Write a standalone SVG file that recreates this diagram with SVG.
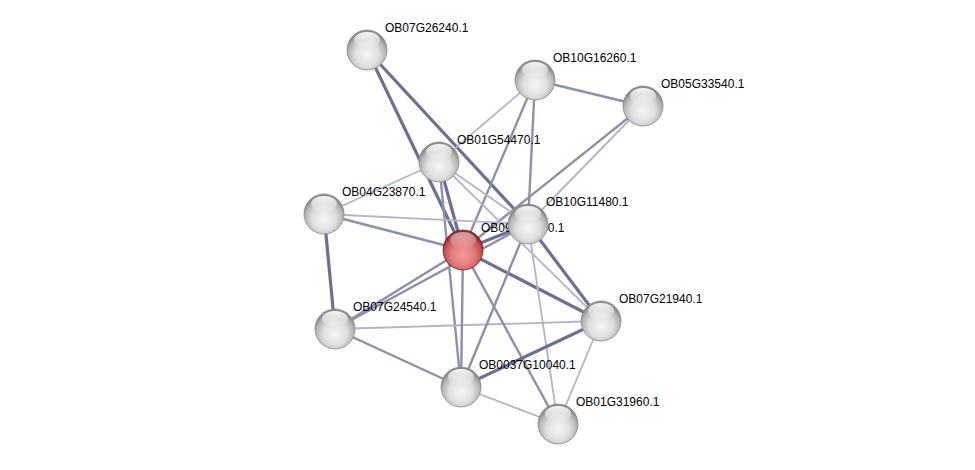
<svg xmlns="http://www.w3.org/2000/svg" width="975" height="470" viewBox="0 0 975 470">
<defs>
<radialGradient id="gW" cx="50%" cy="62%" r="55%">
<stop offset="0" stop-color="#f6f6f6"/>
<stop offset="0.55" stop-color="#dedede"/>
<stop offset="0.85" stop-color="#b4b4b4"/>
<stop offset="1" stop-color="#8c8c8c"/>
</radialGradient>
<radialGradient id="gR" cx="50%" cy="62%" r="55%">
<stop offset="0" stop-color="#f49a9a"/>
<stop offset="0.55" stop-color="#e07a7a"/>
<stop offset="0.85" stop-color="#c05252"/>
<stop offset="1" stop-color="#8e2c2c"/>
</radialGradient>
<linearGradient id="shine" x1="0" y1="0" x2="0" y2="1">
<stop offset="0" stop-color="#ffffff" stop-opacity="0.95"/>
<stop offset="1" stop-color="#ffffff" stop-opacity="0.05"/>
</linearGradient>
</defs>
<style>
.s{stroke:#6d7190;stroke-width:3.2;fill:none}
.m{stroke:#8d90aa;stroke-width:2.4;fill:none}
.w{stroke:#b2b5c8;stroke-width:1.8;fill:none}
.nw{fill:url(#gW);stroke:#8a8a8a;stroke-width:0.8}
.nr{fill:url(#gR);stroke:#7a2020;stroke-width:0.8}
.sh{fill:url(#shine)}
text{font-family:"Liberation Sans",Arial,sans-serif;font-size:12px;fill:#000}
</style>
<rect width="975" height="470" fill="#ffffff"/>
<g id="edges">
<line class="s" x1="367" y1="50" x2="463" y2="250"/>
<line class="s" x1="367" y1="50" x2="528" y2="224"/>
<line class="m" x1="535" y1="80" x2="643" y2="106"/>
<line class="w" x1="535" y1="80" x2="439" y2="162"/>
<line class="m" x1="535" y1="80" x2="463" y2="250"/>
<line class="m" x1="535" y1="80" x2="528" y2="224"/>
<line class="m" x1="643" y1="106" x2="463" y2="250"/>
<line class="w" x1="643" y1="106" x2="528" y2="224"/>
<line class="w" x1="439" y1="162" x2="324" y2="214"/>
<line class="s" x1="439" y1="162" x2="463" y2="250"/>
<line class="m" x1="439" y1="162" x2="461" y2="387"/>
<line class="w" x1="439" y1="162" x2="528" y2="224"/>
<line class="w" x1="439" y1="162" x2="601" y2="321"/>
<line class="m" x1="324" y1="214" x2="463" y2="250"/>
<line class="w" x1="324" y1="214" x2="528" y2="224"/>
<line class="s" x1="324" y1="214" x2="335" y2="329"/>
<line class="m" x1="335" y1="329" x2="463" y2="250"/>
<line class="m" x1="335" y1="329" x2="528" y2="224"/>
<line class="w" x1="335" y1="329" x2="601" y2="321"/>
<line class="m" x1="335" y1="329" x2="461" y2="387"/>
<line class="s" x1="463" y1="250" x2="528" y2="224"/>
<line class="s" x1="463" y1="250" x2="601" y2="321"/>
<line class="m" x1="463" y1="250" x2="461" y2="387"/>
<line class="m" x1="463" y1="250" x2="558" y2="424"/>
<line class="s" x1="528" y1="224" x2="601" y2="321"/>
<line class="m" x1="528" y1="224" x2="461" y2="387"/>
<line class="w" x1="528" y1="224" x2="558" y2="424"/>
<line class="s" x1="461" y1="387" x2="601" y2="321"/>
<line class="w" x1="461" y1="387" x2="558" y2="424"/>
<line class="w" x1="558" y1="424" x2="601" y2="321"/>
</g>
<g id="OB07G26240.1">
<circle class="nw" cx="367" cy="50" r="20"/>
<ellipse class="sh" cx="367" cy="40" rx="13" ry="8"/>
<text x="385" y="32">OB07G26240.1</text>
</g>
<g id="OB10G16260.1">
<circle class="nw" cx="535" cy="80" r="20"/>
<ellipse class="sh" cx="535" cy="70" rx="13" ry="8"/>
<text x="553" y="62">OB10G16260.1</text>
</g>
<g id="OB05G33540.1">
<circle class="nw" cx="643" cy="106" r="20"/>
<ellipse class="sh" cx="643" cy="96" rx="13" ry="8"/>
<text x="661" y="88">OB05G33540.1</text>
</g>
<g id="OB01G54470.1">
<circle class="nw" cx="439" cy="162" r="20"/>
<ellipse class="sh" cx="439" cy="152" rx="13" ry="8"/>
<text x="457" y="144">OB01G54470.1</text>
</g>
<g id="OB04G23870.1">
<circle class="nw" cx="324" cy="214" r="20"/>
<ellipse class="sh" cx="324" cy="204" rx="13" ry="8"/>
<text x="342" y="196">OB04G23870.1</text>
</g>
<g id="OB09G10350.1">
<circle class="nr" cx="463" cy="250" r="20"/>
<ellipse class="sh" cx="463" cy="240" rx="13" ry="8" opacity="0.6"/>
<text x="481" y="232">OB09G10350.1</text>
</g>
<g id="OB10G11480.1">
<circle class="nw" cx="528" cy="224" r="20"/>
<ellipse class="sh" cx="528" cy="214" rx="13" ry="8"/>
<text x="546" y="206">OB10G11480.1</text>
</g>
<g id="OB07G21940.1">
<circle class="nw" cx="601" cy="321" r="20"/>
<ellipse class="sh" cx="601" cy="311" rx="13" ry="8"/>
<text x="619" y="303">OB07G21940.1</text>
</g>
<g id="OB07G24540.1">
<circle class="nw" cx="335" cy="329" r="20"/>
<ellipse class="sh" cx="335" cy="319" rx="13" ry="8"/>
<text x="353" y="311">OB07G24540.1</text>
</g>
<g id="OB0037G10040.1">
<circle class="nw" cx="461" cy="387" r="20"/>
<ellipse class="sh" cx="461" cy="377" rx="13" ry="8"/>
<text x="479" y="369">OB0037G10040.1</text>
</g>
<g id="OB01G31960.1">
<circle class="nw" cx="558" cy="424" r="20"/>
<ellipse class="sh" cx="558" cy="414" rx="13" ry="8"/>
<text x="576" y="406">OB01G31960.1</text>
</g>
</svg>
